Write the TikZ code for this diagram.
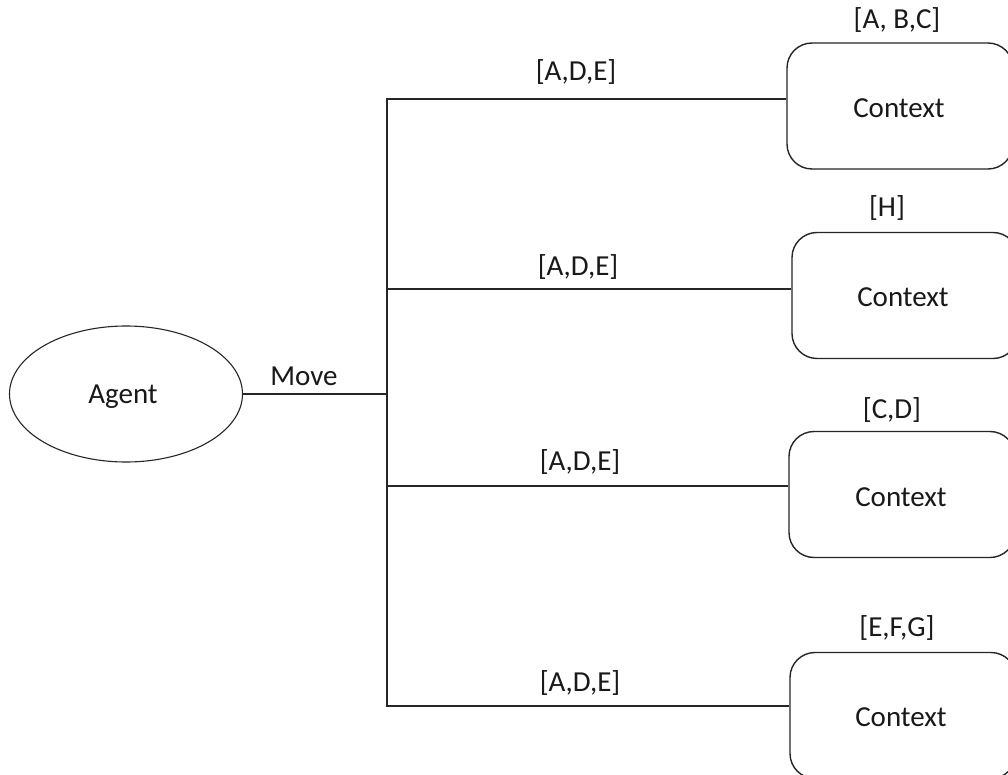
\documentclass[tikz,border=0pt]{standalone}
\usepackage{fontspec}
\setmainfont{Carlito}
\usetikzlibrary{shapes.geometric}
\begin{document}
\begin{tikzpicture}[x=1pt,y=-1pt,
  every node/.style={font=\fontsize{29}{33}\selectfont, text=black!90, inner sep=0pt},
  wire/.style={draw=black!85, line width=1.4pt},
  ctxbox/.style={draw=black!85, line width=1.4pt, rounded corners=25pt,
    minimum width=226pt, minimum height=126pt},
  agentshape/.style={draw=black!85, line width=1.1pt, ellipse,
    minimum width=233pt, minimum height=136pt}]
\clip (0,0) rectangle (1008,775);
\fill[white] (0,0) rectangle (1008,775);

% agent and the branching point
\node[agentshape] (agent) at (126,394) {};
\node (agenttxt) at (123,397) {Agent};
\coordinate (j) at (387,394);
\node (move) at (304,376) {Move};

% context boxes
\node[ctxbox] (c1) at (900,106) {};
\node[ctxbox] (c2) at (905,295.5) {};
\node[ctxbox] (c3) at (902,494.5) {};
\node[ctxbox] (c4) at (903,715.5) {};
\node (t1) at (899,108) {Context};
\node (t2) at (903,297) {Context};
\node (t3) at (901,497) {Context};
\node (t4) at (901,717) {Context};

% labels above the boxes
\node (l1) at (897,20) {[A, B,C]};
\node (l2) at (887,208) {[H]};
\node (l3) at (892,410) {[C,D]};
\node (l4) at (897,628) {[E,F,G]};

% labels above the branches
\node (e1) at (576,72) {[A,D,E]};
\node (e2) at (578,267) {[A,D,E]};
\node (e3) at (580,462) {[A,D,E]};
\node (e4) at (580,683) {[A,D,E]};

% connectors
\draw[wire] (agent.east) -- (j);
\draw[wire] (j) |- ([yshift=7pt]c1.west);
\draw[wire] (j) |- ([yshift=6.5pt]c2.west);
\draw[wire] (j) |- ([yshift=8.5pt]c3.west);
\draw[wire] (j) |- ([yshift=9.5pt]c4.west);
\end{tikzpicture}
\end{document}
